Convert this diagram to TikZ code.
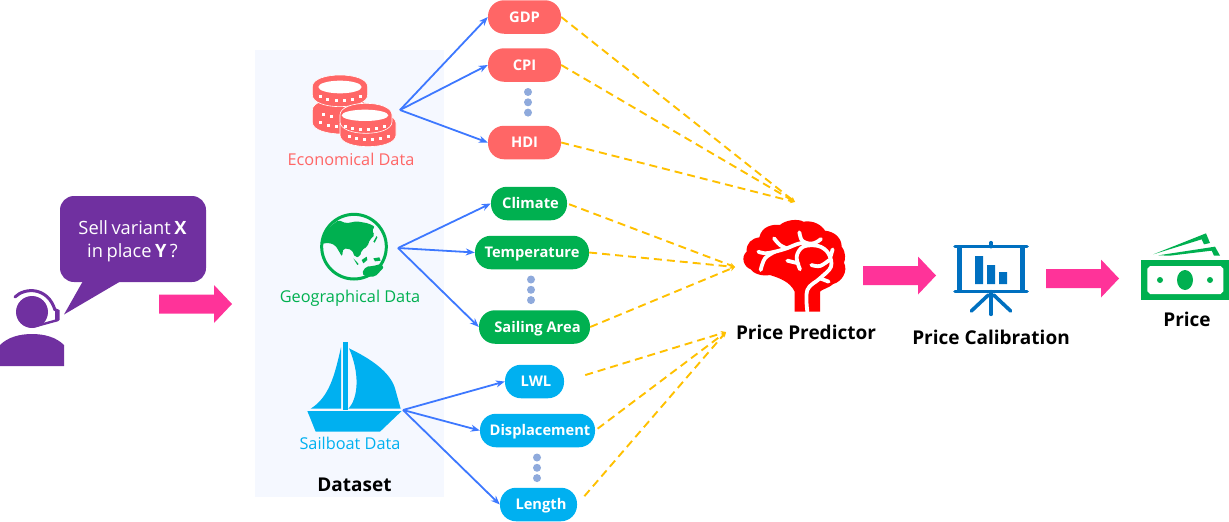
\documentclass[tikz,border=0pt]{standalone}
\usepackage{fontspec}
\setmainfont{Open Sans}
\usetikzlibrary{arrows.meta}
\definecolor{econ}{HTML}{FF6666}
\definecolor{geo}{HTML}{00B050}
\definecolor{sail}{HTML}{00B0F0}
\definecolor{purp}{HTML}{7030A0}
\definecolor{pink}{HTML}{FF3399}
\definecolor{panel}{HTML}{F5F8FF}
\definecolor{link}{HTML}{3D78FF}
\definecolor{dashc}{HTML}{FFC000}
\definecolor{vdots}{HTML}{8FAADC}
\definecolor{chartc}{HTML}{0070C0}
\tikzset{
  pill/.style={draw=none,rectangle,rounded corners=16pt,inner sep=0pt,text=white,
    font=\fontsize{14.7}{17}\selectfont\bfseries,minimum height=33.5pt,text height=11.5pt,text depth=1.5pt},
  feed/.style={draw=link,line width=1.8pt,-{Stealth[length=9pt,width=7pt]}},
  toward/.style={draw=dashc,line width=1.9pt,dash pattern=on 8pt off 5pt,-{Stealth[length=5pt,width=5pt]}},
  srccap/.style={font=\fontsize{16.3}{19}\selectfont},
  bigtitle/.style={font=\fontsize{19}{23}\selectfont\bfseries,text=black},
  zoomed/.style={scale=1/3},
}
\newcommand{\pinkarrow}[2]{% x-left, y-centre
  \fill[pink] (#1,#2-9.5) -- (#1+55,#2-9.5) -- (#1+55,#2-19) -- (#1+73,#2) -- (#1+55,#2+19) -- (#1+55,#2+9.5) -- (#1,#2+9.5) -- cycle;}
\newcommand{\threedots}[2]{\fill[vdots] (#1,#2) circle (4) (#1,#2+10.3) circle (4) (#1,#2+20.6) circle (4);}
\newcommand{\coinbody}[5]{% cx, cy, rx, ry, h
  \filldraw[fill=econ,draw=white,line width=.6pt] (#1-#3,#2) .. controls (#1-#3,#2-1.333*#4) and (#1+#3,#2-1.333*#4) .. (#1+#3,#2) -- (#1+#3,#2+#5) .. controls (#1+#3,#2+#5+1.333*#4) and (#1-#3,#2+#5+1.333*#4) .. (#1-#3,#2+#5) -- cycle;}
\newcommand{\coindots}[1]{\foreach \x/\y in {#1} \fill[white] (\x-4.5,\y-4.5) rectangle (\x+4.5,\y+4.5);}
\newcommand{\tightspaces}{\spaceskip=.19em\relax}
\begin{document}
\begin{tikzpicture}[x=1pt,y=-1pt]
\useasboundingbox (0,0) rectangle (1229,522);
\fill[panel] (255,50) rectangle (444,497);

% person and bubble
\fill[purp] (32,312) circle (16);
\draw[purp,line width=3pt,line cap=round] (15,297) .. controls (25,287) and (48,287) .. (55,310);
\fill[purp] (55,308) -- (59.5,310) -- (59.5,320) -- (55,322) -- cycle;
\draw[purp,line width=2.4pt,line cap=round] (38,325.5) -- (58,320);
\fill[purp] (0,366) -- (0,345) .. controls (8,337) and (20,334) .. (32,334) .. controls (44,334) and (56,337) .. (64,345) -- (64,366) -- cycle;
\fill[purp,rounded corners=14pt] (60,196) rectangle (206,282);
\fill[purp] (83,281) -- (64,314.5) -- (121,281) -- cycle;
\node[text=white,align=center,font=\fontsize{18.3}{23}\selectfont,inner sep=0pt] (ask) at (132.5,241) {\tightspaces Sell variant \textbf{X}\\\tightspaces in place \textbf{Y} ?};

\pinkarrow{159}{304}
\pinkarrow{863}{275.5}
\pinkarrow{1046}{278.5}

% coins
\begin{scope}[shift={(260,60)},zoomed]
 \coinbody{245}{150}{88}{35}{37}
 \coindots{190/163,213/170,180/187,204/196,228/200}
 \coinbody{240}{80}{83}{35}{25}
 \fill[white] (240,81) ellipse (65 and 19);
 \coindots{180/110,203/118,228/122,252/122,277/118,300/110}
 \coinbody{324}{190}{84}{35}{35}
 \coindots{268/230,290/236,314/238,338/238,362/235,384/228}
 \coinbody{318}{165}{78}{35}{20}
 \fill[white] (315,166) ellipse (70 and 17);
 \coindots{256/198,278/205,302/208,326/208,350/205,372/198}
 % globe
 \draw[geo,line width=3pt] (282,560) circle (97);
 \fill[geo,rounded corners=2pt] (235,480) -- (258,490) -- (290,484) -- (325,490) -- (345,500) -- (335,512) -- (345,525) -- (330,538) -- (322,560) -- (305,570) -- (300,590) -- (285,592) -- (276,570) -- (262,566) -- (250,565) -- (246,590) -- (236,572) -- (225,555) -- (205,548) -- (185,552) -- (190,530) -- (205,505) -- cycle;
 \fill[geo] (340,545) -- (350,528) -- (352,532) -- (344,548) -- cycle;
 \fill[geo] (305,600) -- (320,590) -- (322,600) -- (310,610) -- cycle;
 \fill[geo] (340,595) -- (358,592) -- (362,602) -- (345,604) -- cycle;
 \fill[geo] (280,595) -- (296,612) -- (292,615) -- cycle;
 \fill[geo,rounded corners=2pt] (305,640) -- (318,620) -- (340,618) -- (362,612) -- (372,622) -- (345,650) -- (318,650) -- cycle;
\end{scope}
\coordinate (econsrc) at (400,110);
\coordinate (geosrc) at (398,248);
\coordinate (sailsrc) at (403,410);

% sailboat
\begin{scope}[shift={(280,330)},zoomed]
 \fill[sail] (82,243) -- (365,243) -- (300,305) -- (107,305) -- cycle;
 \fill[sail] (188,36) rectangle (204,240);
 \fill[sail] (183,52) .. controls (165,130) and (150,200) .. (92,236) -- (183,236) -- cycle;
 \fill[sail] (207,55) .. controls (270,85) and (330,125) .. (345,175) -- (362,236) -- (205,236) .. controls (235,205) and (240,130) .. (207,55) -- cycle;
\end{scope}

% brain
\begin{scope}[shift={(720,210)},zoomed]
 \fill[red] (224,305) -- (224,245) .. controls (210,215) and (180,205) .. (150,195) .. controls (125,200) and (100,190) .. (92,178) .. controls (70,170) and (62,140) .. (80,125) .. controls (78,100) and (95,85) .. (118,82) .. controls (125,50) and (155,42) .. (180,45) .. controls (195,30) and (235,25) .. (250,35) .. controls (280,30) and (305,45) .. (315,62) .. controls (345,65) and (365,85) .. (365,110) .. controls (380,130) and (375,150) .. (372,158) .. controls (385,185) and (365,215) .. (340,222) .. controls (325,235) and (305,238) .. (300,245) -- (300,305) -- cycle;
 \begin{scope}[white,line width=3.8pt,line cap=round,line join=round]
 \draw plot[smooth,tension=.6] coordinates {(262,305) (262,240) (300,205) (333,170) (325,130) (295,108) (250,110) (230,140) (240,178)};
 \draw plot[smooth,tension=.6] coordinates {(115,125) (135,130) (165,125) (200,115) (240,100) (280,100) (303,87)};
 \draw plot[smooth,tension=.6] coordinates {(162,85) (180,105) (200,115)};
 \draw plot[smooth,tension=.6] coordinates {(238,67) (245,90) (262,100)};
 \draw plot[smooth,tension=.6] coordinates {(165,125) (135,145) (122,180)};
 \draw plot[smooth,tension=.6] coordinates {(202,152) (235,160)};
 \draw (338,118) -- (330,145);
 \draw (300,205) -- (326,215);
 \draw plot[smooth,tension=.6] coordinates {(274,165) (300,168) (328,150)};
 \end{scope}
\end{scope}

% chart
\begin{scope}[shift={(940,230)},zoomed]
 \begin{scope}[chartc,line width=3.6pt,line cap=round]
 \draw (153,38) -- (153,50);
 \draw (45,50) -- (261,50);
 \draw (45,185) -- (261,185);
 \draw[line width=4.6pt,line cap=butt] (59,50) -- (59,185);
 \draw[line width=4.6pt,line cap=butt] (247,50) -- (247,185);
 \draw (153,185) -- (153,253);
 \draw (145,195) -- (94,243);
 \draw (161,195) -- (212,243);
 \end{scope}
 \fill[chartc] (105,78) rectangle (129,162) (141,105) rectangle (165,162) (177,126) rectangle (201,162);
\end{scope}

% money
\begin{scope}[shift={(1030,220)},zoomed]
 \fill[geo] (370,103) -- (528,40) -- (540,69) -- (522,73) -- (515,58) -- cycle;
 \fill[geo] (385,106) -- (555,80) -- (570,107) -- (552,107) -- (545,92) -- (420,107) -- cycle;
 \fill[geo] (333,120) rectangle (597,240);
 \fill[white] (360,138) -- (572,138) -- (580,146) -- (580,214) -- (572,222) -- (360,222) -- (352,214) -- (352,146) -- cycle;
 \fill[geo] (465,180) ellipse (24 and 30);
 \fill[geo] (390,180) circle (9) (540,180) circle (9);
\end{scope}

% feature pills
\node[pill,fill=econ,minimum width=73pt] (gdp) at (524.5,17) {GDP};
\node[pill,fill=econ,minimum width=73pt] (cpi) at (524.5,65) {CPI};
\node[pill,fill=econ,minimum width=73pt] (hdi) at (524.5,142.5) {HDI};
\node[pill,fill=geo,minimum width=76pt] (climate) at (529,203.5) {\hspace*{3pt}Climate};
\node[pill,fill=geo,minimum width=114pt] (temp) at (532,252.5) {Temperature};
\node[pill,fill=geo,minimum width=111pt] (area) at (534.5,327) {\hspace*{6pt}Sailing Area};
\node[pill,fill=sail,minimum width=59pt] (lwl) at (534.5,381.5) {\hspace*{3pt}LWL};
\node[pill,fill=sail,minimum width=115pt] (disp) at (537.5,430.5) {\hspace*{5pt}Displacement};
\node[pill,fill=sail,minimum width=77pt] (len) at (538.5,504.5) {\hspace*{5pt}Length};

\threedots{528}{92}
\threedots{531}{279.5}
\threedots{537}{457.5}

% source labels
\node[srccap,text=econ] (econlabel) at (351,159.5) {Economical Data};
\node[srccap,text=geo] (geolabel) at (350,298.5) {Geographical Data};
\node[srccap,text=sail] (saillabel) at (350,443) {Sailboat Data};
\node[bigtitle] (dataset) at (354.5,485) {Dataset};
\node[bigtitle] (predictor) at (806,332) {Price Predictor};
\node[bigtitle] (calib) at (991,337) {Price Calibration};
\node[bigtitle] (price) at (1187,319) {Price};

% blue connectors
\foreach \t in {gdp,cpi,hdi} \draw[feed] (econsrc) -- (\t.west);
\foreach \t in {climate,temp,area} \draw[feed] (geosrc) -- (\t.west);
\foreach \t in {lwl,disp,len} \draw[feed] (sailsrc) -- (\t.west);

% yellow connectors
\coordinate (hubtop) at (795,202);
\coordinate (hubmid) at (735,267);
\coordinate (hubbot) at (726,332);
\foreach \t in {gdp,cpi,hdi} \draw[toward] (\t.east) -- (hubtop);
\draw[toward,shorten <=2pt] (climate.east) -- (hubmid);
\foreach \t in {temp,area} \draw[toward] (\t.east) -- (hubmid);
\draw[toward,shorten <=22pt] (lwl.east) -- (hubbot);
\draw[toward,shorten <=3pt] (disp.east) -- (hubbot);
\draw[toward,shorten <=11pt] (len.east) -- (hubbot);
\end{tikzpicture}
\end{document}
